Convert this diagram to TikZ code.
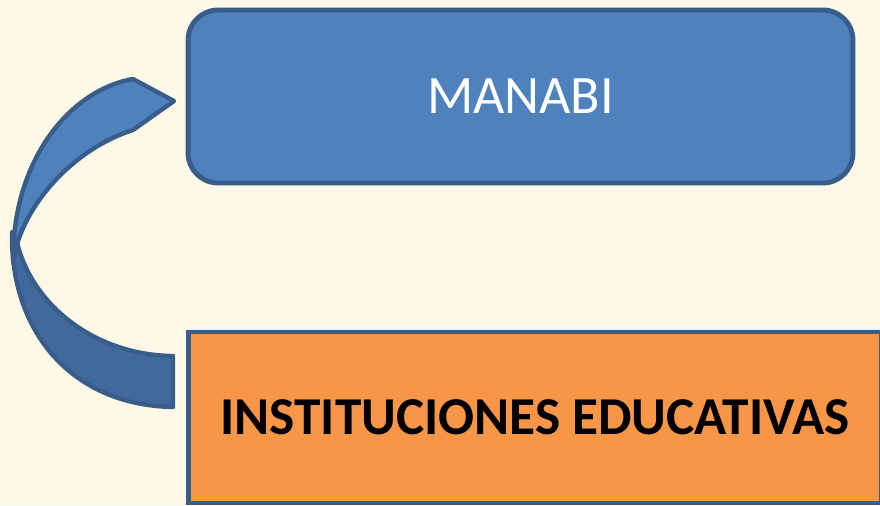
\documentclass[tikz,border=0pt]{standalone}
\usepackage{fontspec}
\setmainfont{Carlito}
\definecolor{cream}{HTML}{FFF8E7}
\definecolor{boxblue}{HTML}{4F81BD}
\definecolor{backblue}{HTML}{41699B}
\definecolor{edgeblue}{HTML}{385D8A}
\definecolor{boxorange}{HTML}{F79646}
\tikzset{
  topbox/.style={draw=edgeblue, fill=boxblue, line width=2.8pt, rounded corners=0.6cm,
    minimum width=13.3cm, minimum height=3.46cm, inner sep=0pt, text=white,
    font=\fontsize{30.8}{36}\selectfont},
  bottombox/.style={draw=edgeblue, fill=boxorange, line width=2.8pt,
    minimum width=13.88cm, minimum height=3.42cm, inner sep=0pt, text=black,
    font=\fontsize{30.3}{36}\selectfont\bfseries},
  band/.style={draw=edgeblue, line width=2.5pt, line join=round}
}
\begin{document}
\begin{tikzpicture}[x=0.02cm, y=-0.02cm]
            \useasboundingbox (0, 0) rectangle (880, 505);
            \clip (0, 0) rectangle (880, 505);
            \fill[cream] (0, 0) rectangle (880, 505);
            \node[topbox, text depth=-2pt] (manabi) at (520.5, 96.5) {MANABI};
            \node[bottombox, text depth=-2pt] (instituciones) at (535, 417.5) {INSTITUCIONES EDUCATIVAS};
            \filldraw[band, fill=backblue] (12, 232) .. controls (10, 330) and (70, 405) .. (173, 407)
              -- (173, 356) .. controls (90, 355) and (30, 300) .. (17, 242) -- cycle;
            \filldraw[band, fill=boxblue] (174, 101) -- (133, 79) .. controls (70, 90) and (12, 160) .. (13, 262)
              .. controls (20, 210) and (70, 150) .. (133, 130) -- cycle;
        \end{tikzpicture}
\end{document}
